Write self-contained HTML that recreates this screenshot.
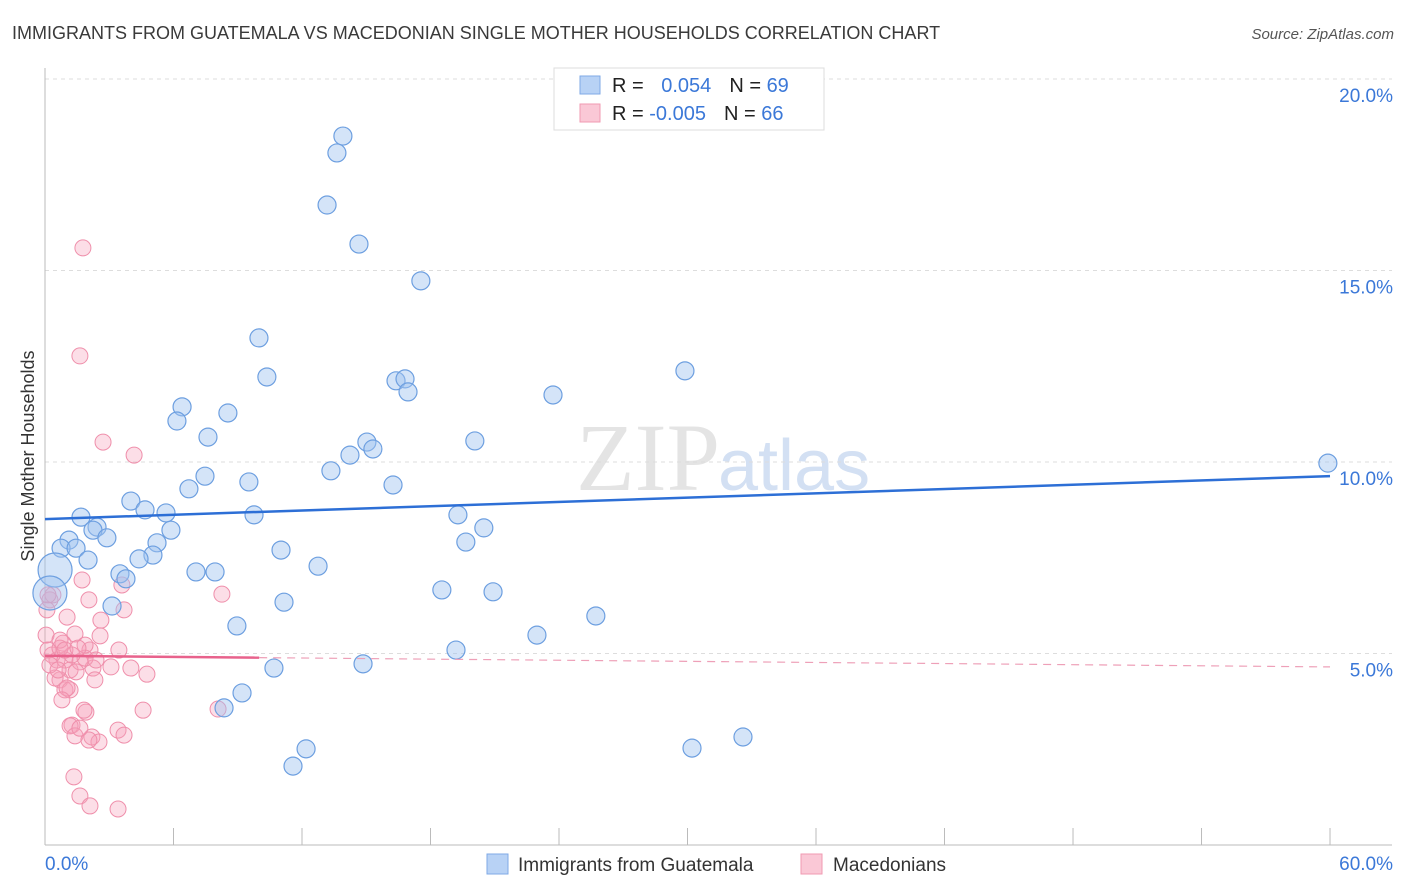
<!DOCTYPE html>
<html><head><meta charset="utf-8"><style>
body{margin:0;background:#fff;font-family:"Liberation Sans",sans-serif}
svg{display:block}
</style></head><body>
<svg id="c" width="1406" height="892" xmlns="http://www.w3.org/2000/svg">
<text x="12" y="39" font-size="18" fill="#3a3a3a">IMMIGRANTS FROM GUATEMALA VS MACEDONIAN SINGLE MOTHER HOUSEHOLDS CORRELATION CHART</text>
<text x="1394" y="39" font-size="15" font-style="italic" fill="#555" text-anchor="end">Source: ZipAtlas.com</text>
<text x="720" y="490" font-size="96" font-family="Liberation Serif,serif" fill="#e4e4e4" text-anchor="end">ZIP</text>
<text x="718" y="490" font-size="72" fill="#d3e0f3">atlas</text>
<g id="grid"></g>
<g id="pts"></g>
<g id="trend"></g>
<text transform="translate(34,456) rotate(-90)" font-size="18" fill="#333" text-anchor="middle">Single Mother Households</text>
<g>
<rect x="554" y="68" width="270" height="62" fill="#fff" stroke="#ddd"/>
<rect x="580" y="76" width="20" height="18" fill="#b8d2f5" stroke="#7fa9e6"/>
<rect x="580" y="104" width="20" height="18" fill="#fac8d6" stroke="#f09ab2"/>
<text x="612" y="92" font-size="20" fill="#222">R = <tspan fill="#3b78d8" dx="12">0.054</tspan><tspan dx="18" fill="#222">N = </tspan><tspan fill="#3b78d8">69</tspan></text>
<text x="612" y="120" font-size="20" fill="#222">R = <tspan fill="#3b78d8">-0.005</tspan><tspan dx="18" fill="#222">N = </tspan><tspan fill="#3b78d8">66</tspan></text>
</g>
<g>
<rect x="487" y="854" width="21" height="20" fill="#b8d2f5" stroke="#7fa9e6"/>
<text x="518" y="871" font-size="19" fill="#333">Immigrants from Guatemala</text>
<rect x="801" y="854" width="21" height="20" fill="#fac8d6" stroke="#f09ab2"/>
<text x="833" y="871" font-size="19" fill="#333">Macedonians</text>
</g>
</svg>
<script>
const blueX=[13.91,13.63,13.17,14.66,17.55,9.99,10.36,29.88,16.39,16.81,16.95,23.72,6.40,8.54,6.16,7.61,20.07,15.03,14.24,15.31,13.35,7.47,9.52,6.72,16.25,59.90,4.01,4.67,5.65,9.76,19.28,1.68,2.43,2.24,5.88,20.49,2.89,1.12,5.23,19.65,0.75,1.45,11.02,5.04,4.39,2.01,0.47,12.75,7.05,7.94,3.50,3.78,0.23,18.53,20.92,3.13,11.16,25.72,8.96,22.97,19.19,14.85,10.69,9.20,8.36,32.59,30.21,12.19,11.58];
const blueY=[18.51,18.07,16.71,15.69,14.73,13.24,12.22,12.38,12.12,12.17,11.83,11.75,11.44,11.28,11.07,10.65,10.55,10.52,10.18,10.34,9.77,9.63,9.48,9.30,9.40,9.97,8.98,8.75,8.67,8.62,8.62,8.56,8.30,8.22,8.22,8.28,8.02,7.96,7.89,7.91,7.75,7.75,7.70,7.57,7.47,7.44,7.18,7.28,7.13,7.13,7.08,6.95,6.58,6.66,6.61,6.24,6.34,5.98,5.72,5.48,5.09,4.73,4.62,3.97,3.58,2.82,2.53,2.51,2.06];
const pinkX=[1.77,1.63,2.71,4.16,1.73,8.26,2.05,3.59,3.69,0.23,0.09,1.03,2.61,0.05,1.40,0.84,2.10,2.57,3.45,4.01,3.08,2.24,4.76,0.56,0.33,0.93,1.17,1.63,0.70,0.93,1.17,0.47,0.14,0.23,1.87,1.45,2.33,1.26,0.70,1.03,4.58,1.91,1.82,1.26,1.17,8.08,3.41,3.69,1.40,2.19,2.52,2.05,1.35,1.63,2.10,3.41,0.37,0.14,0.70,1.87,2.38,0.93,1.54,0.61,0.79,1.63];
const pinkY=[15.59,12.77,10.52,10.18,6.92,6.55,6.40,6.79,6.14,6.40,6.14,5.95,5.87,5.48,5.51,5.27,5.09,5.46,5.09,4.62,4.65,4.62,4.46,4.83,4.96,4.83,4.57,4.78,4.31,4.05,4.05,4.36,5.09,4.70,4.88,4.52,4.31,4.96,5.14,4.10,3.52,3.47,3.52,3.13,3.11,3.55,3.00,2.87,2.85,2.82,2.69,2.74,1.78,1.28,1.02,0.94,6.53,6.53,5.35,5.22,4.83,5.09,5.14,4.57,3.79,3.05];
const yTicks=[5,10,15,20];
const yTickLabels=["5.0%","10.0%","15.0%","20.0%"];
const xTicks=[6,12,18,24,30,36,42,48,54,60];
const blueTrend=[8.51,9.63];
const pinkTrend=[4.94,4.65];
const NS="http://www.w3.org/2000/svg";
const sx=v=>45+v*21.417, sy=v=>845-v*38.3;
function mk(t,a,p){const e=document.createElementNS(NS,t);for(const k in a)e.setAttribute(k,a[k]);p.appendChild(e);return e;}
const grid=document.getElementById('grid');
yTicks.forEach((v,i)=>{
 const l=mk('line',{x1:45,x2:1392,y1:sy(v),y2:sy(v),stroke:'#ddd','stroke-dasharray':'4,4'},grid);
 
 
 const t=mk('text',{x:1393,y:sy(v)+23,'font-size':19,fill:'#3b78d8','text-anchor':'end'},grid);
 t.textContent=yTickLabels[i];
 
 
});
const ax=mk('line',{x1:45,x2:45,y1:68,y2:845,stroke:'#bbb'},grid);


const bx=mk('line',{x1:45,x2:1392,y1:845,y2:845,stroke:'#bbb'},grid);


xTicks.forEach(v=>{const l=mk('line',{x1:sx(v),x2:sx(v),y1:828,y2:845,stroke:'#bbb'},grid);
 
 });
const x0=mk('text',{x:45,y:870,'font-size':19,fill:'#3b78d8'},grid);x0.textContent='0.0%';


const x1=mk('text',{x:1393,y:870,'font-size':19,fill:'#3b78d8','text-anchor':'end'},grid);x1.textContent='60.0%';


const pts=document.getElementById('pts');
pinkX.forEach((x,i)=>{const c=mk('circle',{cx:sx(x),cy:sy(pinkY[i]),r:8,fill:'rgba(246,160,186,0.35)',stroke:'#ef8fab','stroke-width':1},pts);
 
 });
blueX.forEach((x,i)=>{const big=x<0.5;const c=mk('circle',{cx:sx(x),cy:sy(blueY[i]),r:big?17:9,fill:'rgba(160,195,240,0.45)',stroke:'#6d9fe0','stroke-width':1.2},pts);
 
 });
const tr=document.getElementById('trend');
const b=mk('line',{x1:sx(0),y1:sy(blueTrend[0]),x2:sx(60),y2:sy(blueTrend[1]),stroke:'#2d6fd6','stroke-width':2.5},tr);


const pm=v=>pinkTrend[0]+(pinkTrend[1]-pinkTrend[0])*v/60;
const p1=mk('line',{x1:sx(0),y1:sy(pinkTrend[0]),x2:sx(10),y2:sy(pm(10)),stroke:'#e8628c','stroke-width':2.5},tr);


const p2=mk('line',{x1:sx(10),y1:sy(pm(10)),x2:sx(60),y2:sy(pinkTrend[1]),stroke:'#eea0b8','stroke-width':1.2,'stroke-dasharray':'8,6'},tr);


</script>
</body></html>
